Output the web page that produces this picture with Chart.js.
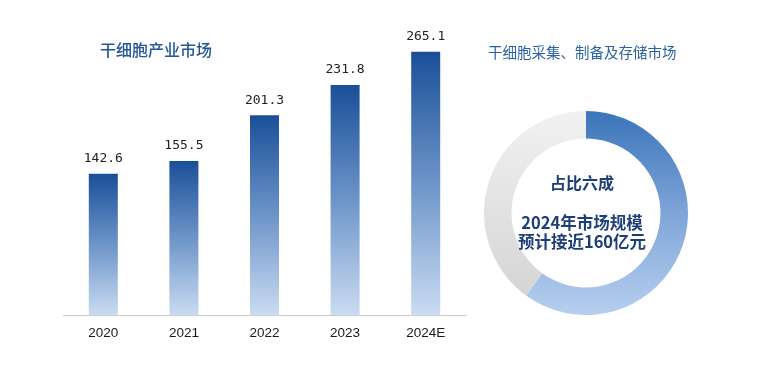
<!DOCTYPE html>
<html>
<head>
<meta charset="utf-8">
<script src="https://cdn.jsdelivr.net/npm/chart.js@4"></script>
<style>
  html, body { margin: 0; padding: 0; background: #fff; }
  #wrap { position: relative; width: 773px; height: 377px; overflow: hidden; font-family: "Noto Sans CJK SC", sans-serif; }
  #barChart { position: absolute; left: 0; top: 0; }
  #ringChart { position: absolute; left: 476px; top: 103px; }
  .title { position: absolute; white-space: nowrap; line-height: 1; }
  #t1 { left: 100px; top: 41px; font-size: 16px; font-weight: 500; color: #245797; }
  #t2 { left: 488px; top: 45px; font-size: 14.5px; color: #2a63a2; }
  .center { position: absolute; left: 482px; width: 200px; text-align: center; font-weight: 700; color: #1d3f78; line-height: 1; }
</style>
</head>
<body>
<div id="wrap">
  <canvas id="barChart" width="480" height="377"></canvas>
  <canvas id="ringChart" width="220" height="220"></canvas>
  <div class="title" id="t1">干细胞产业市场</div>
  <div class="title" id="t2">干细胞采集、制备及存储市场</div>
  <div class="center" style="top:174px;font-size:16px;">占比六成</div>
  <div class="center" style="top:214px;font-size:16.5px;">2024年市场规模</div>
  <div class="center" style="top:233px;font-size:16.5px;">预计接近160亿元</div>
</div>
<script>
// 干细胞产业市场规模（亿元）
const years = ['2020', '2021', '2022', '2023', '2024E'];
const marketSize = [142.6, 155.5, 201.3, 231.8, 265.1];

// 采集、制备及存储市场占比
const shareLabels = ['采集、制备及存储', '其他'];
const shareValues = [60, 40];

// --- 柱状图：每根柱子自己的上深下浅渐变 ---
const valueLabels = {
    id: 'valueLabels',
    afterDatasetsDraw(chart) {
        const c = chart.ctx;
        const meta = chart.getDatasetMeta(0);
        c.save();
        c.font = '13px "DejaVu Sans Mono", monospace';
        c.fillStyle = '#222';
        c.textAlign = 'center';
        c.textBaseline = 'middle';
        meta.data.forEach(function (bar, i) {
            c.fillText(marketSize[i].toFixed(1), bar.x, bar.y - 15);
        });
        c.restore();
    }
};

new Chart(document.getElementById('barChart'), {
    type: 'bar',
    data: {
        labels: years,
        datasets: [{
            data: marketSize,
            backgroundColor: function (context) {
                const chart = context.chart;
                const area = chart.chartArea;
                if (!area || context.dataIndex === undefined) return '#5b86c0';
                const top = chart.scales.y.getPixelForValue(context.raw);
                const g = chart.ctx.createLinearGradient(0, top, 0, area.bottom);
                g.addColorStop(0, '#1a4f98');
                g.addColorStop(0.5, '#6d95c9');
                g.addColorStop(1, '#cbdcf2');
                return g;
            },
            borderWidth: 0,
            categoryPercentage: 1,
            barPercentage: 0.36
        }]
    },
    options: {
        responsive: false,
        animation: false,
        layout: { padding: { left: 63, right: 14, top: 17, bottom: 27 } },
        plugins: { legend: { display: false }, tooltip: { enabled: false } },
        scales: {
            y: { display: false, min: 0, max: 300 },
            x: {
                grid: { display: false, drawTicks: false, tickLength: 0 },
                border: { display: true, color: '#c8c8c8', width: 1 },
                ticks: { color: '#1a1a1a', padding: 9, font: { family: 'Liberation Sans, Arial', size: 13.5 } }
            }
        }
    },
    plugins: [valueLabels]
});

// --- 环形图 ---
new Chart(document.getElementById('ringChart'), {
    type: 'doughnut',
    data: {
        labels: shareLabels,
        datasets: [{
            data: shareValues,
            backgroundColor: function (context) {
                const area = context.chart.chartArea;
                if (!area) return context.dataIndex === 0 ? '#6f9bd3' : '#e2e2e2';
                const g = context.chart.ctx.createLinearGradient(0, area.top, 0, area.bottom);
                if (context.dataIndex === 0) {
                    g.addColorStop(0, '#3a74b9');
                    g.addColorStop(0.5, '#7ea5d8');
                    g.addColorStop(1, '#b7cfef');
                } else {
                    g.addColorStop(0, '#f1f1f1');
                    g.addColorStop(1, '#d2d2d2');
                }
                return g;
            },
            borderWidth: 0
        }]
    },
    options: {
        responsive: false,
        animation: false,
        cutout: '73%',
        layout: { padding: 8 },
        plugins: { legend: { display: false }, tooltip: { enabled: false } }
    }
});
</script>
</body>
</html>
